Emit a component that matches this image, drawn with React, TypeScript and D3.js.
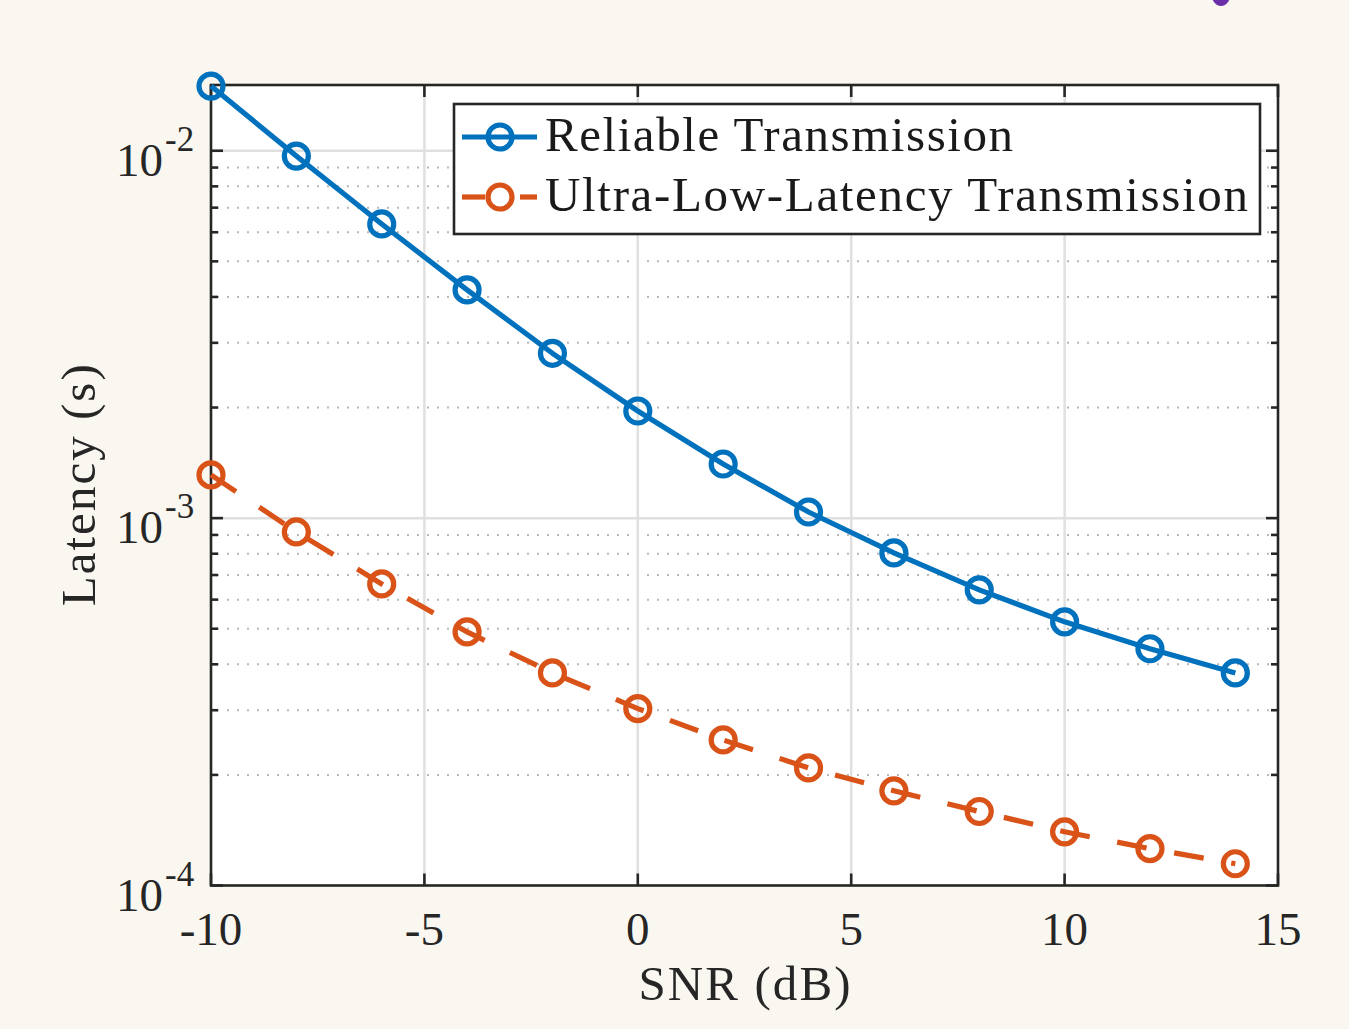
import React from "react";
import * as d3 from "d3";

// SNR sweep (dB)
const snrDb = [-10, -8, -6, -4, -2, 0, 2, 4, 6, 8, 10, 12, 14];
// Latency (s) per scheme
const reliableLatency = [
  0.0150, 0.00967, 0.00632, 0.00418, 0.00281, 0.001957, 0.001404, 0.001039,
  0.000804, 0.000638, 0.000522, 0.000441, 0.000379,
];
const ullLatency = [
  0.001311, 0.000917, 0.000662, 0.00049, 0.000379, 0.000303, 0.000249,
  0.000209, 0.000181, 0.000159, 0.00014, 0.000126, 0.0001146,
];
const seriesNames = ["Reliable Transmission", "Ultra-Low-Latency Transmission"];
const xTicks = [-10, -5, 0, 5, 10, 15];
const yDecades = [-4, -3, -2];

const W = 1349;
const H = 1029;
const left = 211;
const right = 1278;
const top = 85;
const bottom = 885.5;

const BLUE = "#0072BD";
const ORANGE = "#D95319";
const AXIS = "#262626";
const FONT = "'Liberation Serif', 'Times New Roman', serif";
const LW = 5.2;
const MR = 12;

export default function App() {
  const x = d3.scaleLinear().domain([-10, 15]).range([left, right]);
  const y = d3.scaleLog().domain([1e-4, 0.0151]).range([bottom, top]);

  const line = d3
    .line<number>()
    .x((_, i) => x(snrDb[i]))
    .y((v) => y(v));

  // minor log positions inside the visible range
  const minor: number[] = [];
  for (const e of [-4, -3, -2]) {
    for (let m = 2; m <= 9; m++) {
      const v = m * Math.pow(10, e);
      if (v < 0.0151) minor.push(v);
    }
  }
  const majorY = yDecades.map((e) => Math.pow(10, e));

  const ticksLenMajor = 12;
  const ticksLenMinor = 7;

  return (
    <svg
      width={W}
      height={H}
      viewBox={`0 0 ${W} ${H}`}
      style={{ position: "absolute", left: 0, top: 0, display: "block" }}
    >
      <rect x={0} y={0} width={W} height={H} fill="#faf7f0" />
      {/* small decorative glyph fragment at the top edge */}
      <ellipse cx={1221} cy={-8} rx={10} ry={14} fill="#6b2fa8" />

      {/* plot area */}
      <rect x={left} y={top} width={right - left} height={bottom - top} fill="#ffffff" />

      {/* minor dotted grid */}
      {minor.map((v) => (
        <line
          key={"mg" + v}
          x1={left + 6}
          x2={right}
          y1={y(v)}
          y2={y(v)}
          stroke="#b8b8b8"
          strokeWidth={2}
          strokeDasharray="2 8"
        />
      ))}
      {/* major grid */}
      {majorY
        .filter((v) => v > 1e-4)
        .map((v) => (
          <line key={"Mg" + v} x1={left} x2={right} y1={y(v)} y2={y(v)} stroke="#e0e0e0" strokeWidth={2.5} />
        ))}
      {xTicks
        .filter((t) => t > -10 && t < 15)
        .map((t) => (
          <line key={"xg" + t} x1={x(t)} x2={x(t)} y1={top} y2={bottom} stroke="#e0e0e0" strokeWidth={2.5} />
        ))}

      {/* axes box */}
      <rect x={left} y={top} width={right - left} height={bottom - top} fill="none" stroke={AXIS} strokeWidth={2.6} />

      {/* x ticks (bottom & top) */}
      {xTicks.map((t) => (
        <g key={"xt" + t}>
          <line x1={x(t)} x2={x(t)} y1={bottom} y2={bottom - ticksLenMajor} stroke={AXIS} strokeWidth={2.6} />
          <line x1={x(t)} x2={x(t)} y1={top} y2={top + ticksLenMajor} stroke={AXIS} strokeWidth={2.6} />
          <text
            x={x(t)}
            y={945}
            textAnchor="middle"
            fontFamily={FONT}
            fontSize={47}
            fill="#262626"
          >
            {t}
          </text>
        </g>
      ))}

      {/* y ticks (left & right) */}
      {majorY.map((v) => (
        <g key={"yt" + v}>
          <line x1={left} x2={left + ticksLenMajor} y1={y(v)} y2={y(v)} stroke={AXIS} strokeWidth={2.6} />
          <line x1={right} x2={right - ticksLenMajor} y1={y(v)} y2={y(v)} stroke={AXIS} strokeWidth={2.6} />
        </g>
      ))}
      {minor.map((v) => (
        <g key={"ymt" + v}>
          <line x1={left} x2={left + ticksLenMinor} y1={y(v)} y2={y(v)} stroke={AXIS} strokeWidth={2.6} />
          <line x1={right} x2={right - ticksLenMinor} y1={y(v)} y2={y(v)} stroke={AXIS} strokeWidth={2.6} />
        </g>
      ))}
      {yDecades.map((e) => {
        const yy = y(Math.pow(10, e));
        return (
          <g key={"yl" + e} fontFamily={FONT} fill="#262626">
            <text x={163} y={yy + 25} textAnchor="end" fontSize={47}>
              10
            </text>
            <text x={165} y={yy} textAnchor="start" fontSize={35}>
              {String(e)}
            </text>
          </g>
        );
      })}

      {/* axis labels */}
      <text
        x={(left + right) / 2}
        y={1000}
        textAnchor="middle"
        fontFamily={FONT}
        fontSize={49}
        fill="#262626"
        textLength={212}
        lengthAdjust="spacing"
      >
        SNR (dB)
      </text>
      <text
        transform={`translate(95, ${(top + bottom) / 2}) rotate(-90)`}
        textAnchor="middle"
        fontFamily={FONT}
        fontSize={49}
        fill="#262626"
        textLength={242}
        lengthAdjust="spacing"
      >
        Latency (s)
      </text>

      {/* series */}
      <path d={line(reliableLatency) ?? ""} fill="none" stroke={BLUE} strokeWidth={LW} strokeLinejoin="round" />
      <path
        d={line(ullLatency) ?? ""}
        fill="none"
        stroke={ORANGE}
        strokeWidth={LW}
        strokeDasharray="30 28"
      />
      {reliableLatency.map((v, i) => (
        <circle key={"b" + i} cx={x(snrDb[i])} cy={y(v)} r={MR} fill="none" stroke={BLUE} strokeWidth={LW} />
      ))}
      {ullLatency.map((v, i) => (
        <circle key={"o" + i} cx={x(snrDb[i])} cy={y(v)} r={MR} fill="none" stroke={ORANGE} strokeWidth={LW} />
      ))}

      {/* legend */}
      <g>
        <rect x={454} y={104} width={806} height={130} fill="#ffffff" stroke={AXIS} strokeWidth={2.6} />
        <line x1={462} x2={537} y1={137} y2={137} stroke={BLUE} strokeWidth={LW} />
        <circle cx={500} cy={137} r={MR} fill="none" stroke={BLUE} strokeWidth={LW} />
        <line x1={462} x2={485} y1={197} y2={197} stroke={ORANGE} strokeWidth={LW} />
        <line x1={520} x2={537} y1={197} y2={197} stroke={ORANGE} strokeWidth={LW} />
        <circle cx={500} cy={197} r={MR} fill="none" stroke={ORANGE} strokeWidth={LW} />
        <text
          x={545}
          y={151}
          fontFamily={FONT}
          fontSize={49}
          fill="#1a1a1a"
          textLength={468}
          lengthAdjust="spacing"
        >
          {seriesNames[0]}
        </text>
        <text
          x={545}
          y={211}
          fontFamily={FONT}
          fontSize={49}
          fill="#1a1a1a"
          textLength={703}
          lengthAdjust="spacing"
        >
          {seriesNames[1]}
        </text>
      </g>
    </svg>
  );
}
